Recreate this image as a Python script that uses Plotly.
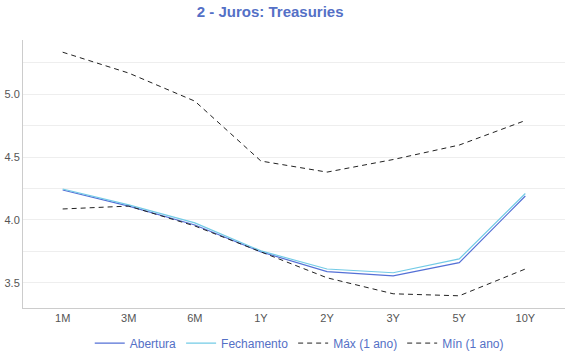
import plotly.graph_objects as go

categories = ["1M", "3M", "6M", "1Y", "2Y", "3Y", "5Y", "10Y"]
abertura = [4.238, 4.11, 3.96, 3.746, 3.589, 3.556, 3.66, 4.19]
fechamento = [4.246, 4.12, 3.976, 3.754, 3.61, 3.58, 3.69, 4.21]
maximo = [5.333, 5.167, 4.944, 4.468, 4.38, 4.48, 4.595, 4.79]
minimo = [4.087, 4.11, 3.952, 3.746, 3.54, 3.413, 3.397, 3.61]
y_tickvals = [3.5, 3.75, 4.0, 4.25, 4.5, 4.75, 5.0, 5.25]
y_ticktext = ["3.5", "", "4.0", "", "4.5", "", "5.0", ""]

font = "Liberation Sans, Arial, sans-serif"
blue = "#5470c6"

fig = go.Figure()
fig.add_trace(go.Scatter(x=categories, y=abertura, name="Abertura", mode="lines",
                         line=dict(color="#5470d6", width=1.2)))
fig.add_trace(go.Scatter(x=categories, y=fechamento, name="Fechamento", mode="lines",
                         line=dict(color="#73cbe6", width=1.2)))
fig.add_trace(go.Scatter(x=categories, y=maximo, name="Máx (1 ano)", mode="lines",
                         line=dict(color="#222222", width=1, dash="5px,4px")))
fig.add_trace(go.Scatter(x=categories, y=minimo, name="Mín (1 ano)", mode="lines",
                         line=dict(color="#222222", width=1, dash="5px,4px")))

fig.update_layout(
    width=570, height=360,
    margin=dict(l=23, r=5, t=40, b=52, autoexpand=False),
    paper_bgcolor="white", plot_bgcolor="white",
    font=dict(family=font, size=11, color="#555"),
    title=dict(text="<b>2 - Juros: Treasuries</b>", xref="container", x=0.474, xanchor="center",
               yref="container", y=0.967, yanchor="middle",
               font=dict(family=font, size=15, color=blue)),
    showlegend=True,
    legend=dict(orientation="h", xref="container", x=0.525, xanchor="center",
                yref="container", y=0.047, yanchor="middle",
                font=dict(family=font, size=12, color=blue), itemwidth=30,
                tracegroupgap=0),
    xaxis=dict(type="category", range=[-0.6, 7.6], showgrid=False, showline=True,
               linecolor="#cccccc", linewidth=1, ticks="", tickfont=dict(size=11, color="#555"),
               zeroline=False, automargin=False),
    yaxis=dict(range=[3.30, 5.43], tickvals=y_tickvals, ticktext=y_ticktext, showgrid=True,
               gridcolor="#eeeeee", gridwidth=1, showline=True, linecolor="#cccccc", linewidth=1,
               ticks="", zeroline=False, tickfont=dict(size=11, color="#555"), automargin=False),
)

fig.write_html("out.html", config={"displayModeBar": False},
               post_script="document.body.style.margin='0';")
